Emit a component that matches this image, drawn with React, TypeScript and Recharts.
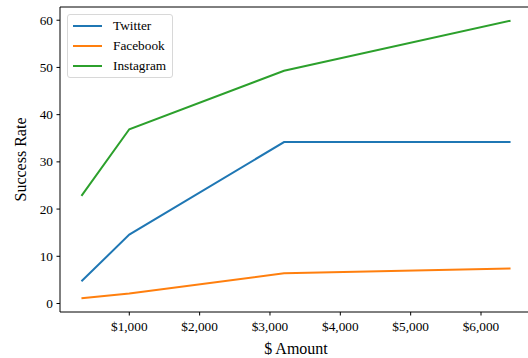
import React from "react"
import { LineChart, Line, XAxis, YAxis, ReferenceLine } from "recharts"

// dollar amounts (x) and success rate per platform
const amounts = [320, 1000, 3200, 6420]
const twitter = [4.7, 14.6, 34.2, 34.2]
const facebook = [1.1, 2.1, 6.4, 7.4]
const instagram = [22.8, 36.9, 49.3, 59.9]

const xTicks = [1000, 2000, 3000, 4000, 5000, 6000]
const yTicks = [0, 10, 20, 30, 40, 50, 60]

const X_DOMAIN: [number, number] = [15, 6725]
const Y_DOMAIN: [number, number] = [-1.8, 62.8]

const series = [
    { key: "twitter", name: "Twitter", color: "#1f77b4" },
    { key: "facebook", name: "Facebook", color: "#ff7f0e" },
    { key: "instagram", name: "Instagram", color: "#2ca02c" },
]

const data = amounts.map((a, i) => ({
    amount: a,
    twitter: twitter[i],
    facebook: facebook[i],
    instagram: instagram[i],
}))

const font = "'Liberation Serif', 'Times New Roman', serif"

const fmtMoney = (v: number) => "$" + v.toLocaleString("en-US")

const XTick = (props: any) => {
    const { x, y, payload } = props
    return (
        <text x={x} y={y + 12} textAnchor="middle" fill="#000" style={{ fontFamily: font, fontSize: 13.3 }}>
            {fmtMoney(payload.value)}
        </text>
    )
}

const YTick = (props: any) => {
    const { x, y, payload } = props
    return (
        <text x={x} y={y + 4.5} textAnchor="end" fill="#000" style={{ fontFamily: font, fontSize: 13.3 }}>
            {payload.value}
        </text>
    )
}

export default function App() {
    return (
        <div style={{ position: "absolute", left: 0, top: 0, width: 528, height: 358, overflow: "hidden", background: "#fff", fontFamily: font }}>
            <LineChart
                width={540}
                height={358}
                data={data}
                margin={{ top: 7, right: 8, bottom: 0, left: 0 }}
                style={{ fontFamily: font }}
            >
                <XAxis
                    dataKey="amount"
                    type="number"
                    domain={X_DOMAIN}
                    ticks={xTicks}
                    allowDataOverflow
                    height={46}
                    tickSize={3.5}
                    tickMargin={3.5}
                    tick={<XTick />}
                    stroke="#000"
                    label={{ value: "$ Amount", position: "insideBottom", offset: 4, style: { fill: "#000", fontSize: 16, fontFamily: font } }}
                />
                <YAxis
                    type="number"
                    domain={Y_DOMAIN}
                    ticks={yTicks}
                    allowDataOverflow
                    width={60}
                    tickSize={3.5}
                    tickMargin={3.5}
                    tick={<YTick />}
                    stroke="#000"
                    label={{ value: "Success Rate", angle: -90, position: "insideLeft", offset: 20, style: { fill: "#000", fontSize: 16, fontFamily: font, textAnchor: "middle" } }}
                />
                <ReferenceLine y={Y_DOMAIN[1]} stroke="#000" />
                {series.map((s) => (
                    <Line
                        key={s.key}
                        type="linear"
                        dataKey={s.key}
                        name={s.name}
                        stroke={s.color}
                        strokeWidth={2}
                        dot={false}
                        activeDot={false}
                        isAnimationActive={false}
                    />
                ))}
            </LineChart>
            {/* legend box, upper left like matplotlib */}
            <div
                style={{
                    position: "absolute",
                    left: 67,
                    top: 14,
                    width: 104,
                    height: 62,
                    border: "1px solid #d8d8d8",
                    borderRadius: 3,
                    background: "rgba(255,255,255,0.8)",
                    fontSize: 13.3,
                    color: "#000",
                }}
            >
                {series.map((s, i) => (
                    <div key={s.key} style={{ position: "absolute", left: 0, top: 3 + i * 20, height: 16, display: "flex", alignItems: "center" }}>
                        <div style={{ marginLeft: 5, width: 29, height: 2, background: s.color }} />
                        <span style={{ marginLeft: 11, lineHeight: "16px" }}>{s.name}</span>
                    </div>
                ))}
            </div>
        </div>
    )
}
